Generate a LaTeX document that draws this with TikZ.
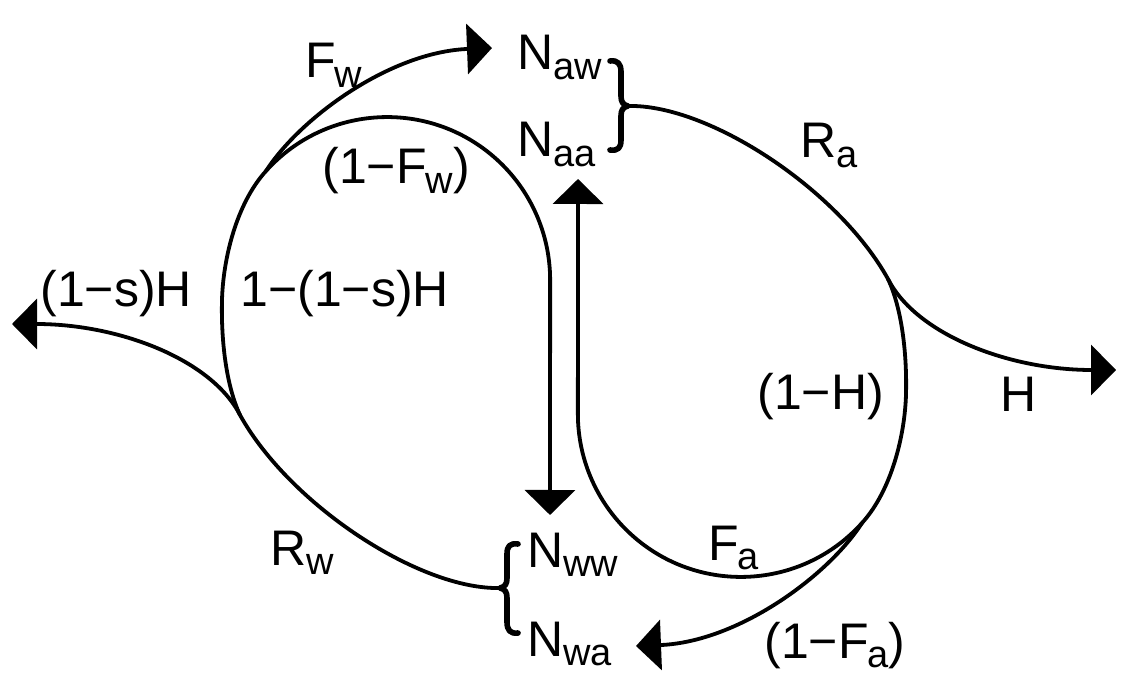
\documentclass[tikz,border=0pt]{standalone}
\usepackage{fontspec}
\setmainfont{Liberation Sans}
\usetikzlibrary{arrows.meta}
\newcommand{\lowsub}[1]{\raisebox{-4.8pt}{\fontsize{19}{20}\selectfont #1}}
\newcommand{\Fsub}[1]{F\kern-0.5pt\lowsub{#1}}
\begin{document}
\begin{tikzpicture}[x=0.5pt,y=-0.5pt,
  flow/.style={line width=1.9pt, line cap=round},
  arr/.style={flow, -{Triangle[length=12.5pt,width=25pt]}},
  brc/.style={line width=2.8pt, line cap=round, line join=round},
  lbl/.style={anchor=base west, inner sep=0pt, font=\fontsize{25}{30}\selectfont},
]
\useasboundingbox (0,0) rectangle (1128,683);

% junctions and arrow tips
\coordinate (bT) at (628,106);
\coordinate (bB) at (500,588);
\coordinate (J1) at (240,415);
\coordinate (J2) at (266,171);
\coordinate (J3) at (888,279);
\coordinate (J4) at (862,523);
\coordinate (tFw) at (492,48);
\coordinate (tSH) at (12,324);
\coordinate (tH) at (1116,370);
\coordinate (tFa) at (636,646);
\coordinate (tUp) at (578,179);
\coordinate (tDn) at (550,515);

% labels
\node[lbl] (Naw) at (517,70) {N\lowsub{aw}};
\node[lbl] (Naa) at (517,157) {N\lowsub{aa}};
\node[lbl] (Nww) at (527,567) {N\lowsub{ww}};
\node[lbl] (Nwa) at (527,656) {N\lowsub{wa}};
\node[lbl] (lFw) at (305,78) {\Fsub{w}};
\node[lbl] (l1Fw) at (322,184) {(1−\Fsub{w})};
\node[lbl] (lsH) at (40,307) {(1−s)H};
\node[lbl] (l1sH) at (240,307) {1−(1−s)H};
\node[lbl] (lRa) at (800,158) {R\lowsub{a}};
\node[lbl] (l1H) at (757,410) {(1−H)};
\node[lbl] (lH) at (1000,412) {H};
\node[lbl] (lRw) at (270,565) {R\lowsub{w}};
\node[lbl] (lFa) at (708,560) {\Fsub{a}};
\node[lbl] (l1Fa) at (764,658) {(1−\Fsub{a})};

% braces
\draw[brc] (610,61) .. controls (618,60) and (621,64) .. (621,72) -- (621,96)
  .. controls (621,102) and (623,105) .. (bT)
  .. controls (623,107) and (621,110) .. (621,116) -- (621,140)
  .. controls (621,148) and (618,151) .. (610,150);
\draw[brc] (518,633) .. controls (510,634) and (507,630) .. (507,622) -- (507,598)
  .. controls (507,592) and (505,589) .. (bB)
  .. controls (505,587) and (507,584) .. (507,578) -- (507,554)
  .. controls (507,546) and (510,543) .. (518,544);

% left half
\draw[flow] (bB) .. controls (420,590) and (290,505) .. (J1);
\draw[flow] (J1) .. controls (226,385) and (221,340) .. (222,300)
  .. controls (223,260) and (236,204) .. (J2);
\draw[arr] (J2) arc[start angle=-138, end angle=0, radius=163] -- (tDn);
\draw[arr] (J2) .. controls (300,118) and (390,52) .. (tFw);
\draw[arr] (J1) .. controls (212,360) and (120,324) .. (tSH);

% right half
\draw[flow] (bT) .. controls (708,104) and (838,189) .. (J3);
\draw[flow] (J3) .. controls (902,309) and (907,354) .. (906,394)
  .. controls (905,434) and (892,490) .. (J4);
\draw[arr] (J4) arc[start angle=42, end angle=180, radius=163] -- (tUp);
\draw[arr] (J4) .. controls (828,576) and (738,642) .. (tFa);
\draw[arr] (J3) .. controls (916,334) and (1008,370) .. (tH);
\end{tikzpicture}
\end{document}
